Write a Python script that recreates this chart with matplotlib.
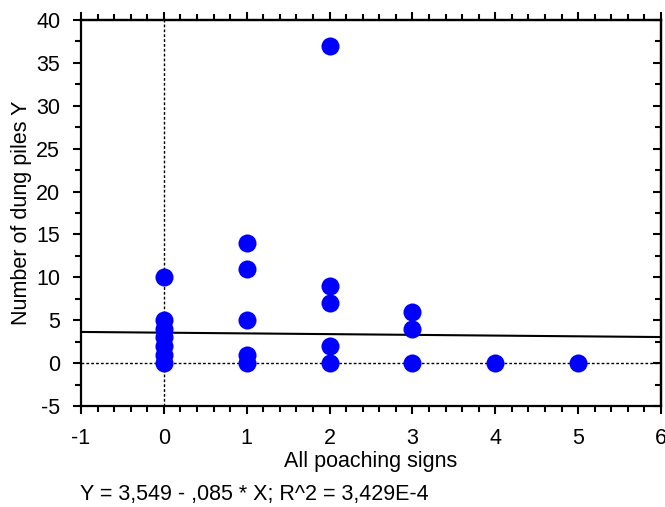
import numpy as np
import matplotlib
matplotlib.use("Agg")
import matplotlib.pyplot as plt
from matplotlib.ticker import MultipleLocator

plt.rcParams['font.family'] = ['Liberation Sans', 'DejaVu Sans']
plt.rcParams['axes.unicode_minus'] = False

# poaching signs (X) and dung piles (Y)
poaching = [0, 0, 0, 0, 0, 0, 0,
            1, 1, 1, 1, 1,
            2, 2, 2, 2, 2,
            3, 3, 3,
            4, 5]
dung = [10, 5, 4, 3, 2, 1, 0,
        14, 11, 5, 1, 0,
        37, 9, 7, 2, 0,
        6, 4, 0,
        0, 0]

# regression fit
intercept = 3.549
slope = -0.085
fit_text = "Y = 3,549 - ,085 * X; R^2 = 3,429E-4"

fs = 15.5

fig = plt.figure(figsize=(6.65, 5.07), dpi=100)
ax = fig.add_axes([0.1218, 0.1992, 0.8722, 0.7614])

ax.axvline(0, color='black', linestyle=(0, (2, 1.5)), linewidth=1, zorder=1)
ax.axhline(0, color='black', linestyle=(0, (2, 1.5)), linewidth=1, zorder=1)

xs = np.array([-1, 6])
ax.plot(xs, intercept + slope * xs, color='black', linewidth=1.5, zorder=2)

ax.plot(poaching, dung, 'o', color='#0000ff', markersize=13,
        markeredgewidth=0, zorder=3, clip_on=False)

ax.set_xlim(-1, 6)
ax.set_ylim(-5, 40)
ax.xaxis.set_major_locator(MultipleLocator(1))
ax.xaxis.set_minor_locator(MultipleLocator(0.2))
ax.yaxis.set_major_locator(MultipleLocator(5))
ax.yaxis.set_minor_locator(MultipleLocator(2.5))

for s in ax.spines.values():
    s.set_linewidth(1.6)

ax.tick_params(which='major', direction='out', length=6, width=1.5,
               labelsize=fs)
ax.tick_params(axis='x', which='major', pad=10)
ax.tick_params(axis='y', which='major', pad=9)
ax.tick_params(which='minor', direction='out', length=4, width=1.5)

top = ax.secondary_xaxis('top')
top.xaxis.set_major_locator(MultipleLocator(1))
top.xaxis.set_minor_locator(MultipleLocator(0.2))
top.tick_params(which='major', direction='out', length=6, width=1.5, labeltop=False)
top.tick_params(which='minor', direction='out', length=4, width=1.5)
top.spines['top'].set_linewidth(1.6)

right = ax.secondary_yaxis('right')
right.yaxis.set_major_locator(MultipleLocator(5))
right.yaxis.set_minor_locator(MultipleLocator(2.5))
right.tick_params(which='major', direction='in', length=6, width=1.5, labelright=False)
right.tick_params(which='minor', direction='in', length=4, width=1.5)
right.spines['right'].set_linewidth(1.6)

fig.text(0.558, 0.0907, "All poaching signs", fontsize=fs, ha='center', va='center')
fig.text(0.0316, 0.580, "Number of dung piles Y", fontsize=fs, ha='center',
         va='center', rotation=90)
fig.text(0.12, 0.024, fit_text, fontsize=fs, ha='left', va='center')

fig.savefig("out.png", dpi=100)
